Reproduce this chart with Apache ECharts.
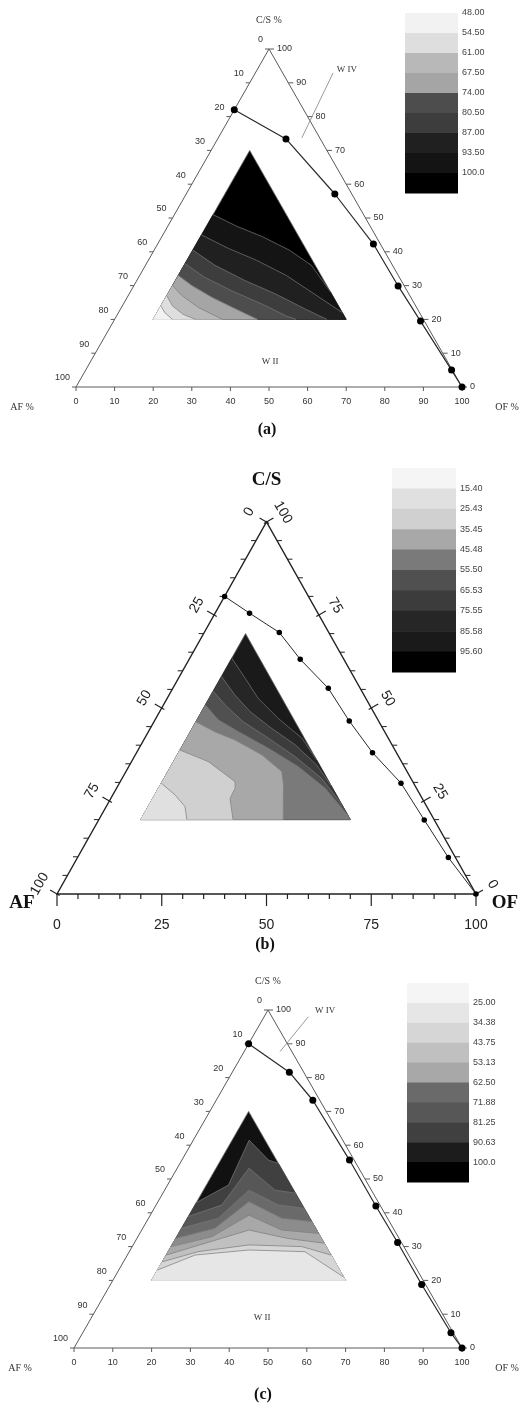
<!DOCTYPE html>
<html>
<head>
<meta charset="utf-8">
<script src="https://cdn.jsdelivr.net/npm/echarts@6.0.0/dist/echarts.min.js"></script>
<style>
html, body { margin: 0; padding: 0; background: #fff; }
#chart { width: 525px; height: 1416px; }
</style>
</head>
<body>
<div id="chart"></div>
<script>
// Ternary points are written [OF %, C/S %]; AF % is the remainder to 100.

// W II / W IV phase boundary, measured points
const boundaryA = [[0, 82], [17.7, 73.4], [38.5, 57.1], [55.9, 42.3], [68.5, 29.9], [79.5, 19.5], [94.8, 5.0], [100, 0]];
const boundaryB = [[0, 80], [8.2, 75.5], [17.9, 70.3], [26.5, 63.1], [37.1, 55.3], [46.5, 46.5], [56.3, 38.0], [67.2, 29.8], [77.7, 19.9], [88.5, 9.8], [100, 0]];
const boundaryC = [[0, 90], [14.7, 81.6], [24.9, 73.3], [43.2, 55.6], [56.8, 42.0], [67.8, 31.2], [80.2, 18.8], [94.9, 4.5], [100, 0]];

// Composition region carrying the contour map: AF >= 20, OF >= 10, C/S >= 20
const regionCorners = [[10, 70], [10, 20], [60, 20]];

// Iso-lines inside the region, highest level first
const contoursA = [
  [[10, 51], [18, 47.5], [26, 44.5], [35, 40.5], [43, 36], [52, 28]],
  [[10, 45], [19, 41], [28, 37.5], [38, 33], [48, 27.5], [58, 22]],
  [[10, 40.5], [18, 36], [28, 31.5], [38, 27.5], [48, 23], [55, 20]],
  [[10, 36.5], [17, 32.5], [26, 28.5], [36, 24.5], [44, 21], [47, 20]],
  [[10, 33], [15, 30], [22, 26.5], [30, 23], [37, 20]],
  [[10, 30], [14, 27], [20, 23.5], [28, 20]],
  [[10, 27], [13, 24], [17, 21.5], [21, 20]],
  [[10, 24], [12, 22], [15, 20]]
];
const contoursB = [
  [[10, 63.4], [15.9, 58], [21.7, 52.6], [29.2, 47.2], [37.5, 41.9], [44, 36]],
  [[10, 58.5], [15.7, 53.5], [21.6, 49], [29, 44.5], [36.8, 40.1], [44.6, 34.7], [51, 29]],
  [[10, 54.5], [15.3, 50.4], [21.3, 46.3], [29.5, 41.9], [38.4, 36.9], [47.6, 31.1], [56, 24]],
  [[10, 50.8], [15.1, 46.8], [21.5, 43.6], [30.8, 39.2], [40.5, 34.2], [49.8, 28.4], [59, 21]],
  [[10, 46.3], [15.9, 43.6], [21.8, 41.4], [30.2, 37.4], [37.2, 32.9], [39.4, 29.3], [44, 20]],
  [[10, 38.7], [18.3, 35.6], [27.4, 30.2], [28.3, 28.4], [28.45, 25.7], [32, 20]],
  [[10, 29.8], [14.9, 26.6], [18.8, 23.5], [21, 20]]
];
const contoursC = [
  [[10, 43], [15.7, 48.2], [14.4, 61.5], [22.3, 55.6], [25.4, 54.6]],
  [[10, 38.9], [16.95, 42.3], [18.5, 53.2], [28.45, 46.7], [34.2, 45.8]],
  [[10, 35.4], [18, 38.4], [21.75, 46.7], [31.55, 42.3], [38.7, 41.3]],
  [[10, 32.4], [18.6, 35.4], [23.45, 43.3], [34.3, 38.4], [42.6, 37.4]],
  [[10, 30], [19.05, 32.9], [25.45, 39.3], [36.05, 34.9], [46.1, 33.9]],
  [[10, 27.5], [18.3, 31], [27.65, 34.9], [39, 32.4], [49, 31]],
  [[10, 25.5], [17.75, 28.5], [29.85, 30.5], [43.7, 30], [52.5, 27.5]],
  [[10, 23.1], [17.45, 27.5], [30.6, 29], [45.25, 28.5], [59, 21]]
];

// Band fills inside the region, highest level first
const fillsA = ['#000000', '#141414', '#202020', '#3d3d3d', '#4d4d4d', '#a5a5a5', '#b8b8b8', '#dedede', '#f2f2f2'];
const fillsB = ['#1a1a1a', '#262626', '#3c3c3c', '#505050', '#7a7a7a', '#a8a8a8', '#d0d0d0', '#e0e0e0'];
const fillsC = ['#111111', '#404040', '#575757', '#6a6a6a', '#8c8c8c', '#a8a8a8', '#c0c0c0', '#d6d6d6', '#e6e6e6'];

// Colour scales (top of the bar first) and their level labels
const scaleColorsA = ['#f2f2f2', '#dedede', '#b8b8b8', '#a5a5a5', '#4d4d4d', '#3d3d3d', '#202020', '#141414', '#000000'];
const scaleLabelsA = ['48.00', '54.50', '61.00', '67.50', '74.00', '80.50', '87.00', '93.50', '100.0'];
const scaleColorsB = ['#f5f5f5', '#e0e0e0', '#d0d0d0', '#a8a8a8', '#7a7a7a', '#505050', '#3c3c3c', '#262626', '#1a1a1a', '#000000'];
const scaleLabelsB = ['15.40', '25.43', '35.45', '45.48', '55.50', '65.53', '75.55', '85.58', '95.60'];
const scaleColorsC = ['#f5f5f5', '#e6e6e6', '#d6d6d6', '#c0c0c0', '#a8a8a8', '#6a6a6a', '#575757', '#404040', '#1c1c1c', '#000000'];
const scaleLabelsC = ['25.00', '34.38', '43.75', '53.13', '62.50', '71.88', '81.25', '90.63', '100.0'];

// Axis ticks
const ticksBy10 = [0, 10, 20, 30, 40, 50, 60, 70, 80, 90, 100];
const ticksBy5 = [0, 5, 10, 15, 20, 25, 30, 35, 40, 45, 50, 55, 60, 65, 70, 75, 80, 85, 90, 95, 100];
const labelsBy25 = [0, 25, 50, 75, 100];

const SANS = 'Liberation Sans, Arial, sans-serif';
const SERIF = 'Liberation Serif, Times New Roman, serif';

// [OF, C/S] -> plane position (x across the base, y = C/S height)
const toXY = p => [p[0] + p[1] / 2, p[1]];

const panels = [
  {
    grid: { left: 76, top: 49, width: 386, height: 338 },
    boundary: boundaryA, contours: contoursA, fills: fillsA,
    kind: 'fine', dot: 7, lineW: 1.2,
    notes: { leader: [[66.6, 92.9], [58.5, 73.7]], upper: [70.2, 93.8], lower: [50.3, 7.4] },
    scale: { grid: { left: 405, top: 13, width: 53, height: 180 }, colors: scaleColorsA, labels: scaleLabelsA, first: 0 },
    caption: { text: '(a)', x: 267, y: 430 }
  },
  {
    grid: { left: 57, top: 522, width: 419, height: 372 },
    boundary: boundaryB, contours: contoursB, fills: fillsB,
    kind: 'bold', dot: 5.5, lineW: 1,
    notes: null,
    scale: { grid: { left: 392, top: 468, width: 64, height: 204 }, colors: scaleColorsB, labels: scaleLabelsB, first: 1 },
    caption: { text: '(b)', x: 265, y: 945 }
  },
  {
    grid: { left: 74, top: 1010, width: 388, height: 338 },
    boundary: boundaryC, contours: contoursC, fills: fillsC,
    kind: 'fine', dot: 7, lineW: 1.2,
    notes: { leader: [[60.4, 98.0], [53.1, 87.7]], upper: [64.7, 99.7], lower: [48.5, 8.9] },
    scale: { grid: { left: 407, top: 983, width: 62, height: 199 }, colors: scaleColorsC, labels: scaleLabelsC, first: 1 },
    caption: { text: '(c)', x: 263, y: 1395 }
  }
];

function contourRenderer(pn) {
  const polys = [regionCorners].concat(pn.contours.map(line => {
    const pts = line.slice();
    if (line[line.length - 1][1] > 20.01) pts.push([60, 20]);
    pts.push([10, 20]);
    return pts;
  }));
  return function (params, api) {
    const k = params.dataIndex;
    const pts = polys[k].map(p => api.coord(toXY(p)));
    const kids = [{
      type: 'polygon', shape: { points: pts },
      style: { fill: pn.fills[k], stroke: k === 0 ? '#6a6a6a' : pn.fills[k], lineWidth: k === 0 ? 0.8 : 0.4 }
    }];
    if (k > 0) {
      kids.push({
        type: 'polyline', shape: { points: pn.contours[k - 1].map(p => api.coord(toXY(p))) },
        style: { stroke: '#777', lineWidth: 0.7, fill: 'none' }
      });
    }
    return { type: 'group', children: kids };
  };
}

function frameRenderer(pn) {
  return function (params, api) {
    const P = p => api.coord(toXY(p));
    const bottomAt = v => P([v, 0]);
    const leftAt = v => P([0, 100 - v]);
    const rightAt = v => P([100 - v, v]);
    const cA = P([0, 0]), cO = P([100, 0]), cC = P([0, 100]);
    const fine = pn.kind === 'fine';
    const ink = fine ? '#5a5a5a' : '#222';
    const kids = [];
    const seg = (a, b, color, w) => kids.push({
      type: 'line', shape: { x1: a[0], y1: a[1], x2: b[0], y2: b[1] },
      style: { stroke: color || ink, lineWidth: w || 1 }
    });
    const txt = (s, x, y, o) => kids.push({
      type: 'text', x: x, y: y, rotation: o.rot || 0,
      style: {
        text: String(s), fill: o.color || '#333', fontSize: o.size, fontFamily: o.family || SANS,
        fontWeight: o.weight || 'normal', align: o.align || 'center', verticalAlign: 'middle'
      }
    });
    kids.push({ type: 'polygon', shape: { points: [cA, cO, cC] }, style: { fill: 'none', stroke: ink, lineWidth: fine ? 1 : 1.4 } });

    if (fine) {
      ticksBy10.forEach(v => {
        const b = bottomAt(v); seg(b, [b[0], b[1] + 4]); txt(v, b[0], b[1] + 15, { size: 9 });
        const l = leftAt(v); seg(l, [l[0] - 4, l[1]]); txt(v, l[0] - 6, l[1] - 9, { size: 9, align: 'right' });
        const r = rightAt(v); seg(r, [r[0] + 5, r[1]]); txt(v, r[0] + 8, r[1], { size: 9, align: 'left' });
      });
      txt('C/S %', cC[0], cC[1] - 29, { size: 10, family: SERIF });
      txt('AF %', cA[0] - 54, cA[1] + 20, { size: 10, family: SERIF });
      txt('OF %', cO[0] + 45, cO[1] + 20, { size: 10, family: SERIF });
    } else {
      const nl = [-0.866, -0.5], nr = [0.866, -0.5];
      ticksBy5.forEach(v => {
        const major = labelsBy25.indexOf(v) >= 0;
        const b = bottomAt(v); seg(b, [b[0], b[1] + (major ? 12 : 5)], null, 1.2);
        const l = leftAt(v), r = rightAt(v);
        if (major) {
          seg([l[0] - nl[0] * 3, l[1] - nl[1] * 3], [l[0] + nl[0] * 8, l[1] + nl[1] * 8], null, 1.2);
          seg([r[0] - nr[0] * 3, r[1] - nr[1] * 3], [r[0] + nr[0] * 8, r[1] + nr[1] * 8], null, 1.2);
        } else {
          seg(l, [l[0] - 5, l[1]]);
          seg(r, [r[0] + 5, r[1]]);
        }
      });
      labelsBy25.forEach(v => {
        const b = bottomAt(v); txt(v, b[0], b[1] + 31, { size: 14, color: '#222' });
        const l = leftAt(v); txt(v, l[0] + nl[0] * 20, l[1] + nl[1] * 20, { size: 14, rot: Math.PI / 3, color: '#222' });
        const r = rightAt(v); txt(v, r[0] + nr[0] * 19, r[1] + nr[1] * 19, { size: 14, rot: -Math.PI / 3, color: '#222' });
      });
      txt('C/S', cC[0], cC[1] - 42, { size: 19, family: SERIF, weight: 'bold', color: '#111' });
      txt('AF', cA[0] - 35, cA[1] + 9, { size: 19, family: SERIF, weight: 'bold', color: '#111' });
      txt('OF', cO[0] + 29, cO[1] + 9, { size: 19, family: SERIF, weight: 'bold', color: '#111' });
    }

    if (pn.notes) {
      seg(api.coord(pn.notes.leader[0]), api.coord(pn.notes.leader[1]), '#9a9a9a', 1);
      const u = api.coord(pn.notes.upper), w = api.coord(pn.notes.lower);
      txt('W IV', u[0], u[1], { size: 9, family: SERIF, color: '#333' });
      txt('W II', w[0], w[1], { size: 9, family: SERIF, color: '#333' });
    }
    return { type: 'group', children: kids };
  };
}

function scaleRenderer(colors) {
  return function (params, api) {
    const k = params.dataIndex;
    const p0 = api.coord([0, k]), p1 = api.coord([1, k + 1]);
    return {
      type: 'rect',
      shape: {
        x: Math.min(p0[0], p1[0]), y: Math.min(p0[1], p1[1]),
        width: Math.abs(p1[0] - p0[0]), height: Math.abs(p1[1] - p0[1]) + 0.5
      },
      style: { fill: colors[k] }
    };
  };
}

const option = {
  animation: false,
  backgroundColor: '#ffffff',
  grid: [], xAxis: [], yAxis: [], series: [], graphic: []
};

panels.forEach(pn => {
  const g = option.grid.length;
  option.grid.push(pn.grid);
  option.xAxis.push({ gridIndex: g, type: 'value', min: 0, max: 100, show: false });
  option.yAxis.push({ gridIndex: g, type: 'value', min: 0, max: 100, show: false });
  option.series.push({
    type: 'custom', xAxisIndex: g, yAxisIndex: g, clip: false, silent: true, z: 1,
    data: pn.fills.map(() => [0, 0]), renderItem: contourRenderer(pn)
  });
  option.series.push({
    type: 'custom', xAxisIndex: g, yAxisIndex: g, clip: false, silent: true, z: 2,
    data: [[0, 0]], renderItem: frameRenderer(pn)
  });
  option.series.push({
    type: 'line', xAxisIndex: g, yAxisIndex: g, clip: false, silent: true, z: 3,
    data: pn.boundary.map(toXY), symbol: 'circle', symbolSize: pn.dot, showSymbol: true,
    lineStyle: { color: '#2a2a2a', width: pn.lineW }, itemStyle: { color: '#000' }
  });

  const s = option.grid.length;
  const sc = pn.scale;
  option.grid.push(sc.grid);
  option.xAxis.push({ gridIndex: s, type: 'value', min: 0, max: 1, show: false });
  option.yAxis.push({
    gridIndex: s, type: 'value', min: 0, max: sc.colors.length, interval: 1, inverse: true, position: 'right',
    axisLine: { show: false }, axisTick: { show: false }, splitLine: { show: false },
    axisLabel: {
      margin: 4, fontSize: 9, color: '#444', fontFamily: SANS,
      formatter: v => sc.labels[v - sc.first] || ''
    }
  });
  option.series.push({
    type: 'custom', xAxisIndex: s, yAxisIndex: s, clip: false, silent: true,
    data: sc.colors.map((c, k) => [0, k]), renderItem: scaleRenderer(sc.colors)
  });

  option.graphic.push({
    type: 'text', x: pn.caption.x, y: pn.caption.y,
    style: { text: pn.caption.text, fill: '#111', fontSize: 16, fontWeight: 'bold', fontFamily: SERIF, align: 'center', verticalAlign: 'middle' }
  });
});

const chart = echarts.init(document.getElementById('chart'), null, { renderer: 'canvas' });
chart.setOption(option);
</script>
</body>
</html>
